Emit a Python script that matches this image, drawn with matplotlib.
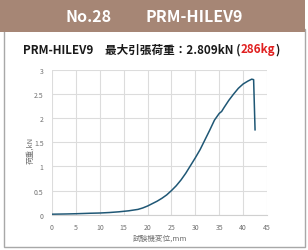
import matplotlib
matplotlib.use("Agg")
import matplotlib.pyplot as plt
from matplotlib.patches import Rectangle

plt.rcParams['font.family'] = ['Noto Sans CJK JP', 'DejaVu Sans']

header_no = "No.28"
header_model = "PRM-HILEV9"
title_main = "PRM-HILEV9　最大引張荷重：2.809kN ("
title_red = "286kg"
title_end = ")"
xlabel = "試験機変位,mm"
ylabel = "荷重,kN"

disp = [0, 3, 5, 8, 10, 12, 14, 16, 18, 19, 20, 21, 22, 23, 24, 25, 26, 27, 28, 29,
        30, 31, 32, 33, 34, 35, 35.5, 36, 37, 38, 39, 40, 41, 41.8, 42.2, 42.5]
load = [0.01, 0.015, 0.02, 0.03, 0.035, 0.045, 0.06, 0.08, 0.11, 0.14, 0.18, 0.23, 0.28, 0.34, 0.41,
        0.5, 0.6, 0.72, 0.86, 1.02, 1.18, 1.35, 1.55, 1.75, 1.96, 2.1, 2.14, 2.22, 2.37, 2.5,
        2.62, 2.71, 2.77, 2.81, 2.80, 1.76]
xticks = [0, 5, 10, 15, 20, 25, 30, 35, 40, 45]
yticks = [0, 0.5, 1, 1.5, 2, 2.5, 3]
ytick_labels = ["0", "0.5", "1", "1.5", "2", "2.5", "3"]

W, H = 308, 251
fig = plt.figure(figsize=(W / 100, H / 100), dpi=100)
fig.patch.set_facecolor("white")

# frame box
fig.add_artist(Rectangle((3.5 / W, 1 - 248 / H), (304.5 - 3.5) / W, (248 - 30) / H,
                         transform=fig.transFigure, facecolor="none",
                         edgecolor="#a8a8a8", linewidth=1.0, zorder=-5))
# header band
fig.add_artist(Rectangle((0, 1 - 33 / H), 305 / W, 33 / H, transform=fig.transFigure,
                         facecolor="#a68675", edgecolor="none", zorder=-4))
fig.text(89 / W, 1 - 17 / H, header_no, color="white", fontsize=11.5,
         fontweight="bold", ha="center", va="center")
fig.text(194 / W, 1 - 17 / H, header_model, color="white", fontsize=11.5,
         fontweight="bold", ha="center", va="center")

# title with red part
fs = 8.4
t1 = fig.text(23 / W, 1 - 50 / H, title_main, color="#1a1a1a", fontsize=fs,
              fontweight="bold", ha="left", va="center")
fig.canvas.draw()
r = fig.canvas.get_renderer()
bb = t1.get_window_extent(r)
t2 = fig.text(bb.x1 / W, 1 - 50 / H, title_red, color="#e02020", fontsize=fs,
              fontweight="bold", ha="left", va="center")
bb2 = t2.get_window_extent(r)
fig.text(bb2.x1 / W, 1 - 50 / H, title_end, color="#1a1a1a", fontsize=fs,
         fontweight="bold", ha="left", va="center")

ax = fig.add_axes([52 / W, 1 - 215.7 / H, (267 - 52) / W, (215.7 - 71) / H])
ax.patch.set_alpha(0)
ax.plot(disp, load, color="#1f5775", linewidth=1.1)
ax.set_xlim(0, 45)
ax.set_ylim(0, 3)
ax.set_xticks(xticks)
ax.set_yticks(yticks)
ax.set_yticklabels(ytick_labels)
ax.grid(True, color="#dcdcdc", linewidth=0.8)
ax.set_axisbelow(True)
for s in ["top", "right", "left"]:
    ax.spines[s].set_visible(False)
ax.spines["bottom"].set_color("#d0d0d0")
ax.tick_params(length=0, labelsize=5, colors="#707070", pad=6)
ax.set_xlabel(xlabel, fontsize=5.5, color="#707070")
ax.set_ylabel(ylabel, fontsize=5.5, color="#707070")
ax.xaxis.set_label_coords(0.5, -0.161)
ax.yaxis.set_label_coords(-0.102, 0.45)
ax.xaxis.label.set_va("center")
ax.yaxis.label.set_va("center")

fig.savefig("out.png", dpi=100)
